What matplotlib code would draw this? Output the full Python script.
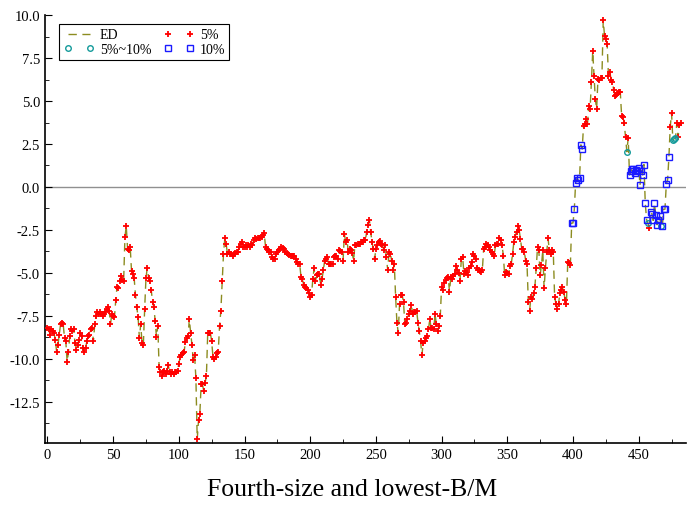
import numpy as np
import matplotlib.pyplot as plt
from matplotlib.ticker import MultipleLocator, FormatStrFormatter

plt.rcParams['font.family'] = ['Liberation Serif', 'DejaVu Serif']

# ED value for each portfolio index 0..482
ed = [
    -8.2, -8.3, -8.6, -8.3, -8.4, -8.5, -8.9, -9.6, -9.2, -8.6,
    -8.0, -7.9, -8.0, -8.8, -9.0, -10.2, -9.6, -8.7, -8.3, -8.4,
    -8.3, -9.1, -9.5, -9.2, -8.9, -8.5, -8.7, -9.4, -9.6, -9.4,
    -9.0, -8.7, -8.6, -8.3, -8.2, -9.0, -8.0, -7.5, -7.3, -7.4,
    -7.3, -7.4, -7.5, -7.4, -7.3, -7.1, -7.0, -7.2, -8.0, -7.4,
    -7.5, -7.6, -6.6, -5.8, -5.9, -5.5, -5.2, -5.4, -5.5, -2.9,
    -2.3, -3.6, -3.7, -3.5, -4.9, -5.1, -5.3, -6.3, -7.0, -7.6,
    -8.8, -8.0, -9.1, -9.2, -7.1, -5.3, -4.7, -5.3, -5.5, -6.0,
    -6.7, -7.0, -7.8, -8.75, -8.1, -10.5, -10.8, -11.0, -10.8, -10.7,
    -10.9, -10.7, -10.4, -10.8, -10.9, -10.8, -10.9, -10.8, -10.8, -10.7,
    -10.3, -9.9, -9.8, -9.7, -9.6, -9.05, -8.8, -8.7, -7.7, -8.5,
    -9.2, -10.1, -9.8, -11.15, -14.7, -13.6, -13.2, -11.5, -11.5, -11.9,
    -11.4, -11.0, -8.5, -8.5, -8.5, -9.0, -9.9, -10.0, -9.9, -9.7,
    -9.6, -8.1, -7.2, -5.5, -3.9, -3.0, -3.3, -3.9, -3.8, -3.9,
    -3.9, -4.0, -3.9, -3.85, -3.8, -3.8, -3.5, -3.3, -3.2, -3.5,
    -3.5, -3.4, -3.5, -3.4, -3.5, -3.3, -3.4, -3.1, -3.0, -3.05,
    -3.0, -2.95, -3.0, -2.9, -2.8, -2.7, -3.5, -3.6, -3.7, -3.8,
    -3.8, -4.1, -4.2, -4.2, -3.9, -3.8, -3.7, -3.6, -3.5, -3.55,
    -3.6, -3.8, -3.85, -3.9, -3.95, -4.0, -4.0, -4.05, -4.05, -4.2,
    -4.4, -4.5, -4.5, -5.25, -5.35, -5.7, -5.8, -5.9, -6.0, -6.2,
    -6.4, -6.3, -5.35, -4.75, -5.5, -5.15, -5.1, -5.1, -5.7, -5.35,
    -4.85, -4.3, -4.2, -4.1, -4.5, -4.5, -4.5, -4.5, -4.1, -4.0,
    -4.0, -4.2, -3.7, -3.75, -3.8, -4.3, -2.75, -3.2, -3.1, -3.8,
    -3.6, -3.7, -3.85, -4.3, -3.4, -3.4, -3.35, -3.3, -3.3, -3.2,
    -3.2, -3.1, -3.1, -2.6, -2.2, -1.9, -2.6, -3.2, -3.6, -4.2,
    -3.6, -3.4, -3.2, -3.15, -3.3, -3.4, -3.65, -3.4, -4.1, -4.85,
    -3.8, -3.9, -4.3, -4.85, -4.5, -6.4, -7.9, -8.5, -6.8, -6.3,
    -6.3, -6.7, -8.0, -7.9, -7.7, -7.4, -7.2, -6.9, -7.4, -7.3,
    -7.3, -7.2, -7.9, -8.4, -9.0, -9.8, -9.1, -9.0, -8.8, -8.7,
    -8.3, -7.7, -8.2, -8.2, -8.3, -7.4, -8.0, -8.4, -8.1, -7.5,
    -5.8, -6.0, -5.6, -5.45, -5.3, -5.25, -6.1, -5.25, -5.35, -5.2,
    -5.05, -4.6, -4.85, -5.0, -5.5, -4.2, -4.1, -5.05, -4.9, -4.95,
    -5.15, -4.75, -4.6, -4.4, -3.9, -4.0, -4.2, -4.75, -4.85, -4.9,
    -4.95, -4.85, -3.6, -3.5, -3.3, -3.4, -3.5, -3.7, -3.8, -3.9,
    -4.0, -3.4, -3.3, -3.3, -3.0, -3.1, -3.4, -4.0, -5.15, -4.95,
    -5.0, -5.05, -4.6, -4.5, -3.9, -3.2, -2.9, -2.6, -2.3, -2.5,
    -3.05, -3.6, -3.6, -3.8, -4.3, -4.5, -6.7, -7.2, -6.4, -6.5,
    -6.2, -5.8, -4.75, -3.5, -3.7, -5.15, -4.55, -3.7, -5.9, -4.75,
    -3.8, -3.0, -3.7, -3.9, -3.7, -3.8, -6.4, -6.8, -7.1, -6.8,
    -6.2, -6.0, -5.8, -6.1, -6.6, -6.8, -4.35, -4.45, -4.55, -2.1,
    -2.1, -1.3, 0.25, 0.5, 0.4, 0.5, 2.45, 2.2, 3.55, 3.65,
    3.95, 3.65, 4.7, 4.55, 6.1, 7.9, 6.45, 5.1, 4.55, 6.3,
    6.25, 6.35, 6.35, 9.7, 8.8, 8.6, 8.3, 6.45, 6.7, 6.25,
    6.1, 5.65, 5.3, 5.35, 5.45, 5.5, 5.5, 4.15, 4.1, 3.7,
    2.9, 2.05, 2.85, 0.7, 0.9, 1.05, 1.05, 0.8, 1.0, 0.9,
    1.1, 0.1, 0.95, 0.7, 1.3, -0.95, -1.9, -2.1, -2.4, -1.45,
    -1.55, -1.95, -0.95, -1.65, -2.2, -1.9, -1.7, -2.3, -2.3, -1.3,
    -1.3, 0.15, 0.4, 1.75, 3.5, 4.3, 2.75, 2.8, 2.85, 3.7,
    2.9, 3.6, 3.7,
]

# significance groups (indices); everything else is the 5% group
sig_10 = list(range(399, 408)) + list(range(443, 457)) + list(range(459, 467)) + [468] + list(range(469, 474))
sig_5_10 = [441, 457, 467, 476, 477, 478]

x = np.arange(len(ed))
y = np.array(ed)
mask10 = np.isin(x, sig_10)
mask510 = np.isin(x, sig_5_10)
mask5 = ~(mask10 | mask510)

fig = plt.figure(figsize=(7, 5.06), dpi=100)
ax = fig.add_axes([0.064, 0.123, 0.916, 0.845])

ax.axhline(0, color='#909090', lw=1.0, zorder=1)
ax.plot(x, y, color='#8c8c20', lw=1.0, dashes=(6, 4), label='ED', zorder=2)
ax.plot(x[mask5], y[mask5], ls='none', marker='+', color='red', ms=5, mew=1.3, label='5%', zorder=3)
ax.plot(x[mask510], y[mask510], ls='none', marker='o', mfc='none', mec='#139a9a', ms=4, mew=1.0,
        label='5%~10%', zorder=4)
ax.plot(x[mask10], y[mask10], ls='none', marker='s', mfc='none', mec='#1a1aff', ms=4, mew=1.0,
        label='10%', zorder=4)

ax.set_xlim(-2, 486)
ax.set_ylim(-14.9, 10)
ax.xaxis.set_major_locator(MultipleLocator(50))
ax.xaxis.set_minor_locator(MultipleLocator(25))
ax.yaxis.set_major_locator(MultipleLocator(2.5))
ax.yaxis.set_minor_locator(MultipleLocator(1.25))
ax.yaxis.set_major_formatter(FormatStrFormatter('%.1f'))
ax.tick_params(which='both', direction='in', labelsize=10.5)
ax.tick_params(which='major', length=5)
ax.tick_params(which='minor', length=3)
for s in ['top', 'right']:
    ax.spines[s].set_visible(False)
ax.spines['left'].set_linewidth(1.2)
ax.spines['bottom'].set_linewidth(1.2)

fig.text(0.503, 0.019, 'Fourth-size and lowest-B/M', fontsize=18.5, ha='center', va='baseline')

h, l = ax.get_legend_handles_labels()
order = [0, 2, 1, 3]
leg = ax.legend([h[i] for i in order], [l[i] for i in order], loc='upper left', ncol=2,
                fontsize=10, fancybox=False, edgecolor='black', framealpha=1,
                numpoints=2, handlelength=2.2, columnspacing=0.9, labelspacing=0.1,
                borderpad=0.3, handletextpad=0.4, bbox_to_anchor=(0.012, 0.995))
leg.get_frame().set_linewidth(0.8)

fig.savefig('out.png', dpi=100)
